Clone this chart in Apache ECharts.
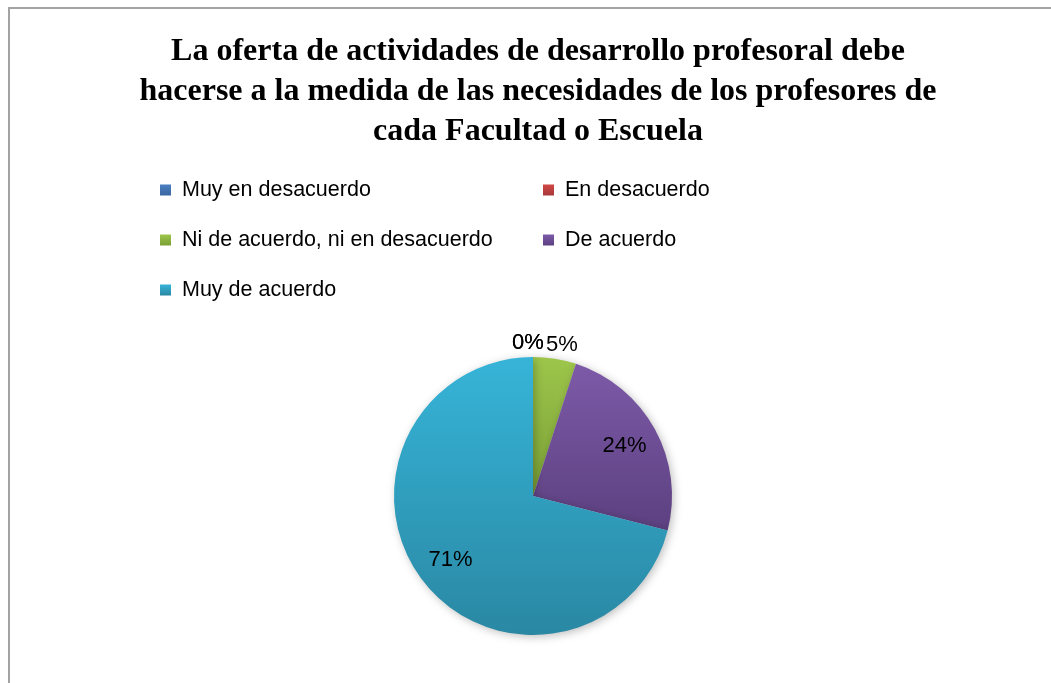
<!DOCTYPE html>
<html>
<head>
<meta charset="utf-8">
<script src="https://cdn.jsdelivr.net/npm/echarts@6/dist/echarts.min.js"></script>
<style>html,body{margin:0;padding:0;background:#fff;}#c{width:1051px;height:683px;}</style>
</head>
<body>
<div id="c"></div>
<script>
const titleText = 'La oferta de actividades de desarrollo profesoral debe\nhacerse a la medida de las necesidades de los profesores de\ncada Facultad o Escuela';
const categories = ['Muy en desacuerdo', 'En desacuerdo', 'Ni de acuerdo, ni en desacuerdo', 'De acuerdo', 'Muy de acuerdo'];
const values = [0, 0, 5, 24, 71];
const legendCol1 = ['Muy en desacuerdo', 'Ni de acuerdo, ni en desacuerdo', 'Muy de acuerdo'];
const legendCol2 = ['En desacuerdo', 'De acuerdo'];

const colorPairs = [
  ['#4a7fc1', '#3a67a0'],
  ['#cf4744', '#a8393a'],
  ['#9dc64b', '#7a9f36'],
  ['#7d5aa8', '#5c4080'],
  ['#36b4d8', '#2a88a3']
];
const grad = (i) => new echarts.graphic.LinearGradient(0, 0, 0, 1, [
  { offset: 0, color: colorPairs[i][0] },
  { offset: 1, color: colorPairs[i][1] }
]);
const insideIdx = [3, 4];

const chart = echarts.init(document.getElementById('c'));
const legendCommon = {
  orient: 'vertical',
  itemWidth: 11,
  itemHeight: 11,
  itemGap: 28,
  icon: 'rect',
  selectedMode: false,
  textStyle: { fontFamily: 'Liberation Sans', fontSize: 21.5, color: '#000', lineHeight: 21, padding: [0, 0, 0, 6] },
  top: 174
};
chart.setOption({
  backgroundColor: '#fff',
  animation: false,
  graphic: [{
    type: 'polyline',
    shape: { points: [[9, 700], [9, 8], [1060, 8]] },
    style: { stroke: '#a3a3a3', lineWidth: 2, fill: null },
    silent: true
  }],
  title: {
    text: titleText,
    left: 533,
    textAlign: 'center',
    top: 27,
    textStyle: { fontFamily: 'Liberation Serif', fontWeight: 'bold', fontSize: 32, lineHeight: 40, color: '#000' }
  },
  legend: [
    Object.assign({}, legendCommon, { left: 155, data: legendCol1 }),
    Object.assign({}, legendCommon, { left: 538, data: legendCol2 })
  ],
  series: [{
    type: 'pie',
    center: [533, 496],
    radius: [0, 139],
    startAngle: 90,
    clockwise: true,
    avoidLabelOverlap: false,
    stillShowZeroSum: true,
    minShowLabelAngle: -1,
    itemStyle: { shadowBlur: 8, shadowColor: 'rgba(0,0,0,0.25)', shadowOffsetX: 2, shadowOffsetY: 2 },
    label: {
      show: true, position: 'outside', formatter: '{d}%',
      fontFamily: 'Liberation Sans', fontSize: 22, color: '#000'
    },
    labelLine: { show: false, length: 14, length2: 0 },
    labelLayout: function (p) { return { align: 'center', verticalAlign: 'middle' }; },
    emphasis: { disabled: true },
    data: categories.map((n, i) => ({
      name: n, value: values[i],
      itemStyle: { color: grad(i) },
      label: { show: insideIdx.indexOf(i) < 0 }
    }))
  }, {
    type: 'pie',
    center: [533, 496],
    radius: [64, 139],
    startAngle: 90,
    clockwise: true,
    silent: true,
    avoidLabelOverlap: false,
    itemStyle: { color: 'rgba(0,0,0,0)' },
    label: {
      show: true, position: 'inside', formatter: '{d}%',
      fontFamily: 'Liberation Sans', fontSize: 22, color: '#000'
    },
    labelLine: { show: false },
    emphasis: { disabled: true },
    data: categories.map((n, i) => ({
      name: n, value: values[i],
      label: { show: insideIdx.indexOf(i) >= 0 }
    }))
  }]
});
</script>
</body>
</html>
